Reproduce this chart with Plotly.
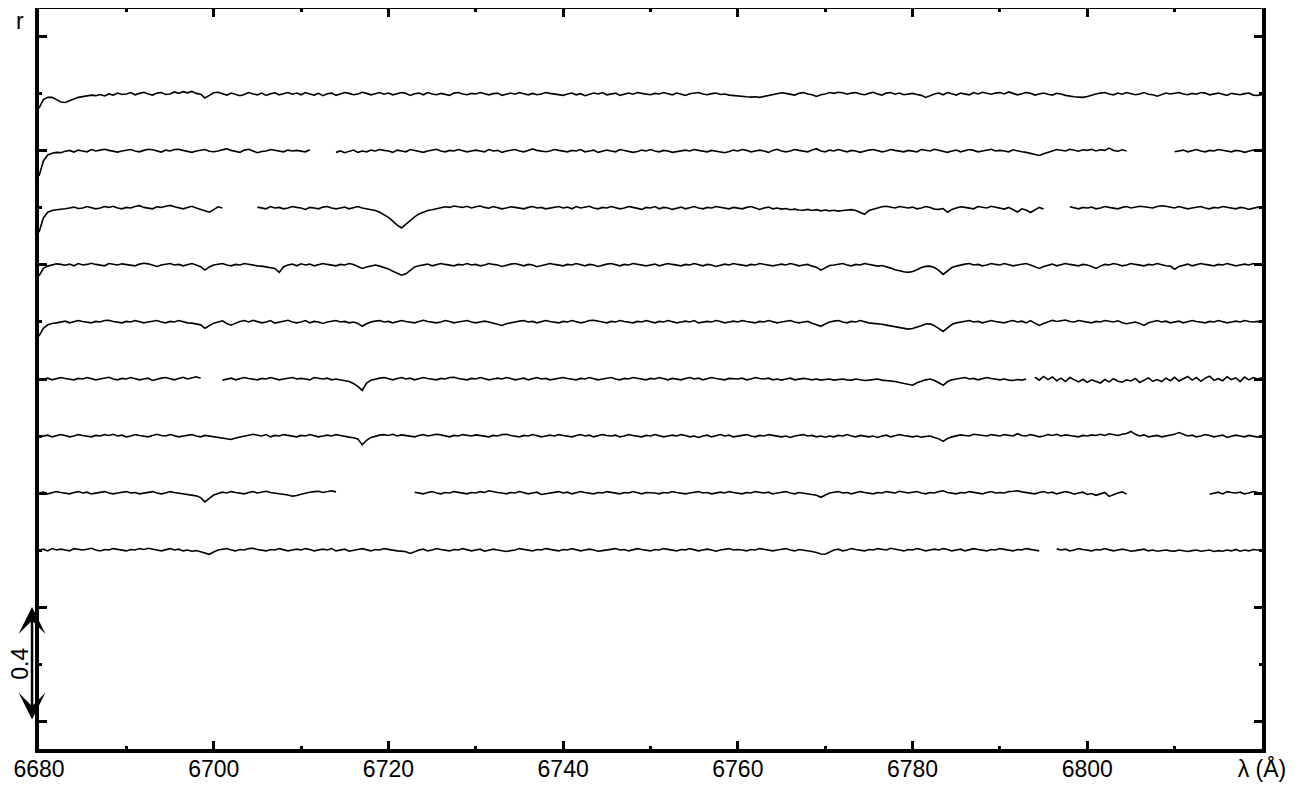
import plotly.graph_objects as go

N = None
# wavelength grid (Angstrom), 0.5 A step from 6680 to 6820
wl_start, wl_step, n_pts = 6680.0, 0.5, 281
wavelength = [wl_start + wl_step * i for i in range(n_pts)]

# vertical offsets of the 9 stacked spectra (top to bottom)
offsets = [2.6, 2.4, 2.2, 2.0, 1.8, 1.6, 1.4, 1.2, 1.0]

# flux deviations from continuum, in units of 0.001 (None = gap)
spec1 = [
    -50,-20,-12,-12,-20,-28,-30,-25,-18,-12,-10,-8,-4,-6,-2,-7,0,-4,3,-2,
    0,5,-3,2,6,0,-4,3,5,-2,0,7,2,8,4,9,2,-1,-14,-5,
    4,6,0,-4,3,-1,-6,-2,5,0,-3,3,-5,1,4,-3,0,5,-1,3,
    -3,5,0,-4,2,-6,1,3,-5,0,5,2,-3,0,6,2,-3,1,5,-1,
    3,-3,0,5,2,-5,1,3,-3,5,0,-3,2,-1,-5,3,5,0,-3,2,
    0,5,2,-3,1,3,-5,0,3,-1,5,1,-3,2,-3,0,5,2,-1,-3,
    -5,0,3,-3,1,-6,-2,3,0,5,-3,1,3,-5,0,3,-1,5,2,0,
    -3,2,0,5,0,-3,3,0,-5,1,3,5,0,-3,1,3,-2,0,-4,-6,
    -8,-9,-10,-11,-10,-12,-9,-6,-3,0,4,2,-1,-4,2,5,0,-3,-9,-3,
    0,5,2,6,4,-1,3,5,0,-3,2,6,0,-4,3,5,-1,3,-3,0,
    2,-2,-5,-12,-5,0,3,-3,5,0,-4,3,0,-3,5,0,6,2,-1,3,
    5,0,7,2,-3,1,5,2,-4,0,3,-1,-4,2,0,-5,-8,-10,-11,-12,
    -9,-4,0,3,5,0,-3,3,-1,5,2,-3,0,5,-1,-3,-8,-2,3,0,
    3,5,0,-3,2,-1,5,3,-3,0,3,-1,-5,2,0,-3,1,3,-4,-5,
    -3,
]
spec2 = [
    -88,-35,-14,-8,-5,-6,-1,2,-4,3,0,-3,5,0,3,6,2,-1,-4,0,
    3,5,0,-3,2,6,4,-1,-4,3,0,5,6,2,-1,-5,0,3,5,-1,
    -3,0,5,8,2,-1,-5,3,6,0,-6,-2,0,5,2,-1,-3,3,0,2,
    0,-3,4,N,N,N,N,N,-5,0,-6,-2,3,-5,0,-3,3,0,5,2,
    0,-5,3,0,-3,5,2,-1,-5,0,3,6,0,-3,2,0,5,2,-3,0,
    3,0,-3,5,0,2,-5,0,3,5,0,-3,2,7,2,-1,-3,0,5,2,
    0,-3,2,0,5,-3,0,3,-5,0,3,0,-3,5,2,0,-5,-2,3,0,
    5,0,-3,2,0,-5,-2,0,3,0,5,2,0,-3,2,0,-3,-6,-2,3,
    0,5,2,-3,0,3,0,-5,2,6,0,-3,0,5,2,-1,-3,3,8,0,
    -3,3,0,5,0,-3,2,0,-5,0,3,5,0,-3,0,5,2,-1,-3,2,
    0,-3,5,2,0,6,2,-1,-5,0,3,-3,0,5,2,-3,0,3,6,0,
    2,0,-3,4,0,-3,-5,-8,-12,-16,-10,-4,0,5,2,0,6,2,-1,4,
    2,6,0,4,2,10,2,-1,4,0,N,N,N,N,N,N,N,N,N,N,
    -3,0,3,-3,0,5,0,-3,2,0,5,2,0,-3,2,0,-5,0,3,0,
    2,
]
spec3 = [
    -85,-35,-15,-9,-6,-5,-3,0,3,-2,0,5,2,-3,0,5,2,6,0,-3,
    2,0,5,8,2,-1,-3,4,2,6,9,4,0,-3,2,6,0,-5,-9,-15,
    -6,4,0,N,N,N,N,N,N,N,3,0,-3,5,0,2,-3,0,5,2,
    0,-5,2,0,-3,3,5,0,-3,0,3,-3,0,5,0,-3,-4,-9,-15,-23,
    -33,-46,-60,-70,-56,-42,-31,-21,-15,-9,-6,-3,0,4,2,7,4,2,6,0,
    4,7,2,-1,5,2,-3,0,4,2,0,-3,2,5,0,2,-3,0,3,5,
    0,3,-3,5,0,2,6,0,-3,2,0,5,2,-3,0,5,2,-1,-5,2,
    0,5,-3,2,0,-5,0,3,-3,0,5,0,-3,2,0,5,2,0,-3,2,
    0,-3,2,5,0,-5,0,3,-3,0,-4,-2,-6,-4,-7,-8,-5,-9,-6,-10,
    -7,-10,-8,-11,-9,-7,-6,-9,-16,-22,-9,-4,0,4,6,2,0,5,2,0,
    3,-3,0,5,2,-4,-5,-2,-15,-5,0,4,2,0,-3,5,2,0,6,2,
    0,-4,2,-5,-14,-3,-7,-16,-8,2,-4,N,N,N,N,N,4,0,-3,2,
    0,3,-3,0,5,2,0,-3,2,5,0,3,6,4,2,0,5,8,6,2,
    0,5,2,-3,0,3,5,0,-3,2,0,5,2,0,-3,2,0,-5,0,3,
    0,
]
spec4 = [
    -38,-12,-4,0,4,2,-1,3,-3,5,0,2,6,2,0,-3,5,2,0,4,
    2,0,-3,3,6,4,0,-5,0,3,5,0,2,-3,0,5,0,-6,-18,-7,
    0,3,5,0,-3,2,0,5,2,0,-3,-4,-6,-8,-12,-26,-6,0,3,-3,
    4,0,3,-3,0,5,2,0,-3,2,0,5,2,-5,-12,-7,-3,0,-4,-8,
    -14,-22,-30,-36,-31,-18,-7,-3,0,3,-3,0,5,2,0,-3,2,0,5,0,
    2,-3,0,5,2,0,-5,0,3,5,0,-3,2,0,-6,-2,0,5,2,0,
    -3,2,0,5,0,-3,2,0,-5,0,3,5,0,-3,2,0,5,2,0,-3,
    0,3,-3,0,5,2,0,-3,2,0,5,0,-3,2,0,-5,0,3,0,5,
    2,0,-3,2,0,5,2,0,-3,0,3,0,5,2,-3,0,2,-4,-8,-18,
    -9,-2,0,3,5,0,-3,2,0,5,2,0,-4,-2,-6,-11,-17,-21,-24,-26,
    -23,-17,-9,-5,-4,-9,-19,-33,-21,-9,-4,0,3,5,0,2,-3,0,5,2,
    0,5,2,-3,0,3,5,0,-5,-12,-5,0,3,-3,0,5,2,0,-3,2,
    0,-5,-12,-4,2,0,5,2,-3,0,5,2,0,-3,2,0,5,0,-3,-4,
    -15,-5,0,3,-3,0,5,2,0,-3,2,0,5,2,-3,0,3,0,5,0,
    2,
]
spec5 = [
    -50,-22,-10,-5,-3,0,3,-3,0,5,2,0,-3,2,0,5,6,2,0,-3,
    2,0,5,2,-3,0,3,5,0,-3,2,0,5,0,-3,-4,-6,-10,-22,-13,
    -4,0,4,-5,-11,-4,2,5,0,6,2,-3,0,5,-4,0,3,6,0,-3,
    0,5,-3,2,0,-5,0,3,5,0,2,-3,0,-5,-15,-6,0,3,5,0,
    2,-3,0,5,2,0,-3,2,6,2,0,-3,0,5,2,-3,0,3,5,0,
    -3,0,3,0,-4,-8,-12,-6,-2,0,3,5,0,2,-3,0,5,2,0,-3,
    2,0,5,2,-3,0,5,6,2,0,-3,2,0,5,2,0,-3,2,0,5,
    0,-3,2,0,5,2,-3,0,3,0,5,-3,0,2,0,5,2,-3,0,3,
    0,5,2,0,-3,2,0,5,2,-3,0,3,5,0,-3,0,2,-4,-9,-15,
    -7,0,3,5,0,-3,2,0,5,0,-3,-5,-6,-8,-11,-14,-18,-21,-23,-25,
    -23,-19,-13,-7,-6,-13,-23,-33,-21,-9,-3,0,3,5,0,2,-3,0,5,2,
    0,-3,2,5,0,3,-3,5,-4,-12,-5,0,6,2,4,7,2,0,5,2,
    0,-3,2,0,5,2,0,4,-3,-6,-4,0,-5,-12,-3,2,5,0,3,-3,
    0,3,-3,0,5,2,0,-3,2,0,5,2,-3,0,3,0,5,2,0,2,
    0,
]
spec6 = [
    -4,0,3,-3,0,5,2,0,-3,2,0,5,2,-3,0,3,6,0,-3,2,
    0,5,2,-3,0,3,-5,0,3,5,0,-3,2,6,0,4,8,3,N,N,
    N,N,-4,0,3,-3,0,5,2,0,-3,2,0,5,2,-3,0,3,5,0,
    2,0,-3,5,2,0,3,-3,0,-3,-5,-9,-16,-26,-40,-14,-4,0,3,5,
    0,-3,2,5,0,3,-3,0,5,2,0,-3,2,0,5,6,2,0,-3,2,
    0,5,2,-3,0,3,0,5,2,-3,0,3,-3,0,5,0,2,-3,0,3,
    5,2,0,-3,2,0,5,2,-3,0,3,5,0,-3,2,0,5,2,0,-3,
    2,0,5,0,-3,2,0,-3,2,5,0,3,-3,0,5,2,0,-3,2,0,
    0,3,-3,0,5,2,0,3,-3,0,-4,0,3,-3,0,2,0,-3,0,-4,
    -2,0,-4,-2,0,-3,-4,0,-2,-5,-4,-2,0,-4,-5,-7,-9,-12,-16,-20,
    -22,-13,-7,-3,0,-5,-13,-22,-9,-3,0,3,5,0,2,-3,0,5,2,0,
    -3,0,-4,-5,-2,-4,0,N,6,-4,9,-2,7,-6,3,-9,5,-3,-10,-1,
    -12,-3,-9,-14,-2,-10,1,-8,-11,-3,-7,2,-12,-5,4,-8,-2,-9,3,-6,
    6,-7,2,9,-4,5,-8,3,10,-5,1,-6,8,-2,4,-9,7,-3,5,0,
    4,
]
spec7 = [
    -3,0,3,-3,0,5,2,-3,0,5,2,0,-3,2,0,5,2,6,0,3,
    -3,0,5,2,0,-3,2,6,2,0,5,2,-3,0,3,5,0,-3,2,0,
    -3,-5,-7,-10,-12,-7,-3,0,3,6,2,0,5,-3,2,0,5,2,0,-3,
    2,0,5,2,-3,0,3,0,5,2,-2,-4,-6,-10,-31,-15,-5,0,3,5,
    2,6,0,4,2,0,-3,2,5,0,3,6,4,0,-3,2,0,5,2,0,
    4,2,0,-3,2,0,5,6,2,0,-3,2,0,5,2,-3,0,3,0,5,
    2,0,-3,2,5,0,3,-3,0,5,2,0,3,-3,0,5,2,0,-3,2,
    0,5,2,-3,0,3,0,5,2,-3,0,-5,0,3,-3,0,5,0,3,-3,
    0,3,5,0,-3,2,0,5,2,0,-3,0,-5,0,3,5,0,2,-3,0,
    -4,0,-3,2,0,5,0,-3,2,0,-3,0,-5,0,3,-3,0,5,2,0,
    -3,0,-4,-2,0,-5,-10,-19,-9,-3,0,4,2,0,6,4,2,0,5,2,
    0,5,2,0,8,2,0,5,2,-3,0,5,2,6,0,4,2,0,-3,2,
    0,4,2,6,2,8,4,2,6,9,16,6,0,4,-3,0,2,-3,0,4,
    6,12,5,0,3,-3,0,5,2,-3,0,3,-5,0,3,0,-3,2,0,-4,
    2,
]
spec8 = [
    0,3,-3,0,5,2,0,-3,2,5,0,3,-3,0,2,5,0,-3,0,3,
    5,0,2,-3,0,3,5,0,-3,0,5,2,0,-3,-4,-6,-10,-16,-31,-19,
    -7,-2,3,0,5,2,0,-3,2,5,0,3,6,2,0,-2,-4,-7,-11,-9,
    -4,0,3,5,6,2,4,8,4,N,N,N,N,N,N,N,N,N,N,N,
    N,N,N,N,N,N,3,0,-3,2,5,0,-3,2,0,5,2,0,-3,2,
    0,5,2,8,4,2,0,-3,2,0,5,2,-3,0,3,-5,-2,0,3,5,
    0,3,-3,0,5,2,0,-3,2,0,5,2,0,-3,2,0,5,0,-3,2,
    2,0,-3,2,0,5,2,0,-3,0,3,5,0,2,-3,0,3,0,5,2,
    0,-3,2,0,5,2,0,3,-3,0,2,5,0,-3,2,0,-3,-4,-8,-15,
    -6,0,3,5,0,2,-3,0,5,2,0,-3,2,0,5,2,0,6,2,0,
    3,5,0,-3,2,0,5,8,2,0,-3,2,0,5,2,0,-3,2,5,0,
    2,0,5,6,8,4,2,0,-3,2,5,0,3,-3,0,5,2,-4,0,3,
    -5,-2,-8,-3,2,-12,-5,0,4,-4,N,N,N,N,N,N,N,N,N,N,
    N,N,N,N,N,N,N,N,-4,0,3,-3,5,2,0,3,-3,0,5,2,
    0,
]
spec9 = [
    0,3,-3,5,0,3,0,-3,5,2,0,3,6,0,-3,2,0,5,2,0,
    -3,2,0,5,2,6,2,0,-3,2,5,0,3,-3,0,-4,-2,-6,-10,-15,
    -7,0,3,5,0,-3,2,0,5,6,2,0,-3,2,0,5,2,-3,0,3,
    0,5,2,-3,0,3,0,5,-3,0,3,-4,0,2,5,0,-3,2,0,5,
    2,0,-3,-4,-6,-12,-6,0,3,-3,0,5,2,0,-3,2,0,5,2,-3,
    0,3,-4,0,3,0,-3,-5,-2,0,5,2,0,-3,2,0,5,2,0,-3,
    2,0,5,2,-3,0,3,0,-4,-2,0,3,5,0,2,-3,0,5,2,0,
    -3,2,0,5,2,0,-3,2,0,5,2,-3,0,3,0,-4,0,3,5,0,
    2,0,-3,2,0,5,2,0,-3,0,3,5,0,-3,2,0,-3,-5,-9,-14,
    -15,-6,0,3,-3,0,5,2,0,-3,2,0,5,2,0,6,2,0,-3,2,
    0,5,2,-3,0,3,0,5,2,-3,0,3,-3,0,5,2,0,-3,2,0,
    5,2,0,-3,2,0,5,2,0,-3,N,N,N,4,0,3,-3,0,5,2,
    0,-3,2,0,5,2,-3,0,3,0,-4,-2,0,3,-3,0,-4,-2,0,-3,
    -4,0,-3,-5,-2,0,-4,-2,0,-5,-2,-4,0,-3,2,-4,0,-3,2,0,
    0,
]
spectra = [spec1, spec2, spec3, spec4, spec5, spec6, spec7, spec8, spec9]

x_tick_vals = [6680, 6700, 6720, 6740, 6760, 6780, 6800, 6820]
x_tick_text = ["6680", "6700", "6720", "6740", "6760", "6780", "6800", "λ (Å)"]
x_minor_vals = [6690, 6710, 6730, 6750, 6770, 6790, 6810]
y_major_vals = [0.4, 0.8, 1.2, 1.6, 2.0, 2.4, 2.8]
y_minor_vals = [0.6, 1.0, 1.4, 1.8, 2.2, 2.6]
scale_bar = (0.4, 0.8)  # 0.4 flux units

for k, s in enumerate(spectra):
    assert len(s) == n_pts, (k, len(s))

FONT = "Arial, Liberation Sans, Helvetica, sans-serif"

fig = go.Figure()
for off, s in zip(offsets, spectra):
    y = [None if v is None else off + v / 1000.0 for v in s]
    fig.add_trace(go.Scatter(x=wavelength, y=y, mode="lines",
                             line=dict(color="black", width=1.6),
                             connectgaps=False, showlegend=False,
                             hoverinfo="skip"))

axis_common = dict(showline=True, linewidth=4, linecolor="black", mirror="allticks",
                   ticks="inside", ticklen=8, tickwidth=3, tickcolor="black",
                   showgrid=False, zeroline=False, automargin=False)

fig.update_xaxes(range=[6680, 6820], tickmode="array", tickvals=x_tick_vals,
                 ticktext=x_tick_text, ticklabelstandoff=-4,
                 tickfont=dict(family=FONT, size=23, color="black"),
                 minor=dict(tickmode="array", tickvals=x_minor_vals, ticks="inside",
                            ticklen=3, tickwidth=3, tickcolor="black"),
                 **axis_common)
fig.update_yaxes(range=[0.302, 2.898], tickmode="array", tickvals=y_major_vals,
                 showticklabels=False,
                 minor=dict(tickmode="array", tickvals=y_minor_vals, ticks="inside",
                            ticklen=3, tickwidth=3, tickcolor="black"),
                 **axis_common)

# y-axis label "r"
fig.add_annotation(text="r", xref="paper", yref="paper", x=-0.0155, y=0.984,
                   showarrow=False, font=dict(family=FONT, size=23, color="black"),
                   xanchor="center", yanchor="middle")
# scale bar (double arrow) with label
fig.add_annotation(text="", xref="paper", x=-0.0057, axref="pixel", ax=0,
                   yref="y", y=scale_bar[1], ayref="y", ay=scale_bar[0],
                   showarrow=True, arrowside="end+start", arrowhead=3,
                   arrowsize=1.8, arrowwidth=2.5, arrowcolor="black")
fig.add_annotation(text="0.4", xref="paper", yref="y", x=-0.0158,
                   y=(scale_bar[0] + scale_bar[1]) / 2, textangle=-90,
                   showarrow=False, font=dict(family=FONT, size=23, color="black"),
                   xanchor="center", yanchor="middle")

# page body adds an 8px offset; figure sized so the plot area lands where it should
fig.update_layout(width=1299, height=781,
                  margin=dict(l=31, r=45, t=1, b=40),
                  paper_bgcolor="white", plot_bgcolor="white")

fig.write_html("out.html")
